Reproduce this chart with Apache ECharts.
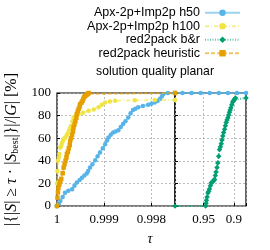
<!DOCTYPE html>
<html><head><meta charset="utf-8">
<script src="https://cdn.jsdelivr.net/npm/echarts@6/dist/echarts.min.js"></script>
<style>html,body{margin:0;padding:0;background:#fff}#c{width:270px;height:250px}</style>
</head><body><div id="c"></div>
<script>
// ---- data ----
const names = ['Apx-2p+Imp2p h50', 'Apx-2p+Imp2p h100', 'red2pack b&r', 'red2pack heuristic'];
const colors = ['#56B4E9', '#F0E442', '#009E73', '#E69F00'];
const chartTitle = 'solution quality planar';
const yTickLabels = [0, 20, 40, 60, 80, 100];
const leftTickLabels = ['1', '0.999', '0.998'];
const rightTickLabels = ['0.95', '0.9'];

// left segment (tau from 1 down to 0.9975)
const h50TauL = [1, 0.99996, 0.99993, 0.99988, 0.99983, 0.99976, 0.99968, 0.99963, 0.99958, 0.99952, 0.99947, 0.99942, 0.99937, 0.99934, 0.9993, 0.99925, 0.99919, 0.99914, 0.99909, 0.99903, 0.99898, 0.99894, 0.99891, 0.99886, 0.99881, 0.99876, 0.9987, 0.99865, 0.9986, 0.99855, 0.99849, 0.99844, 0.99839, 0.99834, 0.99828, 0.99818, 0.99807, 0.998, 0.99793, 0.99787, 0.99782, 0.99778, 0.99775, 0.99765, 0.9975];
const h50PctL = [0, 2, 4.4, 8, 11.8, 13.5, 14.8, 18, 20.7, 23, 25, 27, 28.7, 31, 34, 37, 40.5, 44, 47.3, 51, 54.7, 58, 60.7, 63, 65, 66, 67, 70, 72.5, 75, 78.4, 82, 85, 86, 87.3, 88.5, 89.6, 90.5, 91.7, 93, 94.7, 97, 99, 100, 100];
const h100TauL = [1, 0.99999, 0.99998, 0.99996, 0.99995, 0.99993, 0.99991, 0.9999, 0.99988, 0.99986, 0.99983, 0.9998, 0.99978, 0.99975, 0.99972, 0.9997, 0.99967, 0.99965, 0.9996, 0.99954, 0.99945, 0.99933, 0.99922, 0.99912, 0.99905, 0.99898, 0.99888, 0.99877, 0.99835, 0.99793, 0.9975];
const h100PctL = [20, 31, 40, 43, 46, 51.8, 53, 55, 57, 59, 60.5, 62, 64, 66.6, 69, 71, 75, 78.4, 80, 81.4, 82.5, 84.3, 85.5, 87.3, 89.5, 91.7, 92.5, 93.2, 93.5, 93.8, 93.8];
const brTauL = [1];
const brPctL = [0];
const heurTauL = [1, 0.99999, 0.99998, 0.99997, 0.99995, 0.99993, 0.99991, 0.99988, 0.99986, 0.99984, 0.99982, 0.9998, 0.99979, 0.99977, 0.99975, 0.99973, 0.99972, 0.9997, 0.99968, 0.99966, 0.99965, 0.99963, 0.99961, 0.99959, 0.99958, 0.99956, 0.99954, 0.99952, 0.99951, 0.99948, 0.99946, 0.99944, 0.99942, 0.9994, 0.99937, 0.99935, 0.99933, 0.9975];
const heurPctL = [0, 7.4, 12, 16, 19, 22, 24, 29, 34, 37, 40, 43, 46, 48, 51, 54, 57.7, 60, 63, 66, 69.5, 72, 75, 78, 81.4, 84, 86, 88, 90, 91.5, 93, 95, 96.7, 97.5, 98.5, 99.3, 100, 100];

// right segment (tau from 0.9975 down to 0.88)
const h50TauR = [0.9975, 0.985, 0.97, 0.955, 0.94, 0.925, 0.91, 0.895, 0.88];
const h50PctR = [100, 100, 100, 100, 100, 100, 100, 100, 100];
const brTauR = [0.9975, 0.9467, 0.9461, 0.9455, 0.9443, 0.943, 0.9418, 0.9405, 0.939, 0.9374, 0.936, 0.9345, 0.9333, 0.932, 0.9308, 0.9295, 0.928, 0.9266, 0.9252, 0.9238, 0.9224, 0.921, 0.9197, 0.9184, 0.917, 0.9155, 0.9141, 0.9128, 0.9114, 0.91, 0.9087, 0.9074, 0.9062, 0.905, 0.9035, 0.902, 0.9008, 0.8995, 0.8985, 0.8975, 0.88];
const brPctR = [0, 0, 2.5, 5, 8, 11.6, 13, 15, 18, 20.5, 21, 22, 22.8, 23.5, 27, 30, 34, 38, 44, 50, 52.5, 55, 58.5, 62, 65, 68, 71, 74, 76, 78, 80.5, 83, 85, 87, 89.5, 92, 93, 94, 94.8, 95.5, 95.5];

// ---- chart ----
const zip = (a, b) => a.map((v, i) => [v, b[i]]);
const styles = [
  { symbol: 'circle', type: 'solid', size: 4.5 },
  { symbol: 'circle', type: [4, 2, 1, 2], size: 4.5 },
  { symbol: 'diamond', type: [1, 1.5], size: 5.5 },
  { symbol: 'rect', type: [4, 2], size: 4.5 }
];
function mk(idx, taus, pcts, grid) {
  return {
    type: 'line', name: names[idx], xAxisIndex: grid, yAxisIndex: grid,
    data: zip(taus, pcts), symbol: styles[idx].symbol, symbolSize: styles[idx].size, showAllSymbol: true,
    itemStyle: { color: colors[idx] },
    lineStyle: { color: colors[idx], width: 2, type: styles[idx].type, opacity: 0.6 },
    animation: false, z: 2 + idx
  };
}
const fmt = list => v => { const s = String(Number(v.toFixed(4))); return list.includes(s) ? s : ''; };
const serif = 'Liberation Serif';
const xCommon = {
  type: 'value', inverse: true,
  axisLine: { show: false },
  axisTick: { show: true, inside: true, length: 3, lineStyle: { color: '#000' } },
  axisLabel: { fontFamily: serif, fontSize: 13, color: '#000', margin: 7 },
  splitLine: { show: true, lineStyle: { color: '#aaa', width: 0.8, type: [2, 2] } }
};
const yCommon = {
  type: 'value', min: 0, max: 100, interval: 20,
  axisLine: { show: false },
  axisTick: { show: true, inside: true, length: 3, lineStyle: { color: '#000' } },
  splitLine: { show: true, lineStyle: { color: '#aaa', width: 0.8, type: [2, 2] } }
};
const chart = echarts.init(document.getElementById('c'), null, { renderer: 'canvas' });
chart.setOption({
  animation: false,
  backgroundColor: '#fff',
  grid: [
    { left: 57, right: 95, top: 93, bottom: 44, show: true, borderColor: '#000', borderWidth: 1.2 },
    { left: 175, right: 24, top: 93, bottom: 44, show: true, borderColor: '#000', borderWidth: 1.2 }
  ],
  legend: {
    orient: 'vertical', right: 24, top: 1, align: 'right',
    itemWidth: 35, itemHeight: 8, itemGap: 0,
    textStyle: { fontFamily: 'Liberation Sans', fontSize: 12.5, lineHeight: 13.5, color: '#000' },
    data: names
  },
  xAxis: [
    Object.assign({}, xCommon, { gridIndex: 0, min: 0.9975, max: 1, minInterval: 0.001, maxInterval: 0.001,
      axisLabel: Object.assign({}, xCommon.axisLabel, { formatter: fmt(leftTickLabels) }) }),
    Object.assign({}, xCommon, { gridIndex: 1, min: 0.88, max: 0.9975, minInterval: 0.05, maxInterval: 0.05,
      axisLabel: Object.assign({}, xCommon.axisLabel, { formatter: fmt(rightTickLabels) }) })
  ],
  yAxis: [
    Object.assign({}, yCommon, { gridIndex: 0,
      axisLabel: { fontFamily: serif, fontSize: 13, color: '#000', margin: 6,
        formatter: v => yTickLabels.includes(v) ? String(v) : '' },
      name: '|{|{i|S}| ≥ {i|τ} · |{i|S}{sub|best}|}|/|{i|G}| [%]',
      nameLocation: 'middle', nameRotate: 90, nameGap: 37,
      nameTextStyle: { fontFamily: serif, fontSize: 16, color: '#000',
        rich: { i: { fontFamily: serif, fontStyle: 'italic', fontSize: 16, color: '#000' },
                sub: { fontFamily: serif, fontSize: 10, color: '#000', verticalAlign: 'bottom', padding: [7, 0, 0, 0] } } } }),
    Object.assign({}, yCommon, { gridIndex: 1, axisLabel: { show: false } })
  ],
  graphic: [
    { type: 'text', x: 155, y: 72, style: { text: chartTitle, fontFamily: 'Liberation Sans', fontSize: 12.2, fill: '#000', textAlign: 'center', textVerticalAlign: 'middle' } },
    { type: 'text', x: 150, y: 239, style: { text: 'τ', fontFamily: serif, fontStyle: 'italic', fontSize: 14, fill: '#000', textAlign: 'center', textVerticalAlign: 'middle' } }
  ],
  series: [
    mk(0, h50TauL, h50PctL, 0),
    mk(1, h100TauL, h100PctL, 0),
    mk(2, brTauL, brPctL, 0),
    mk(3, heurTauL, heurPctL, 0),
    mk(0, h50TauR, h50PctR, 1),
    mk(2, brTauR, brPctR, 1)
  ]
});
</script></body></html>
